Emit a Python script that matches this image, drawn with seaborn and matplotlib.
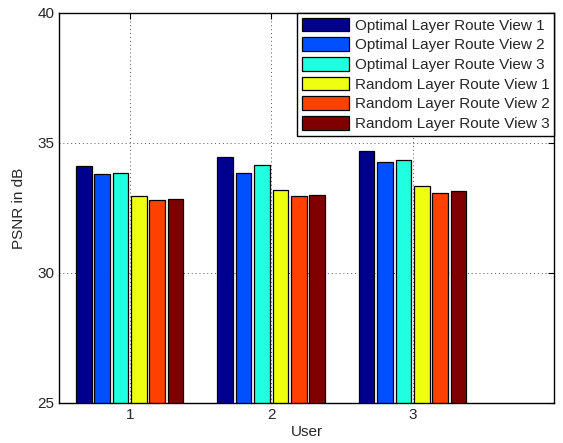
import numpy as np
import pandas as pd
import seaborn as sns
import matplotlib
matplotlib.use("Agg")
import matplotlib.pyplot as plt

users = ["1", "2", "3"]
series = ["Optimal Layer Route View 1", "Optimal Layer Route View 2",
          "Optimal Layer Route View 3", "Random Layer Route View 1",
          "Random Layer Route View 2", "Random Layer Route View 3"]
opt_v1 = [34.12, 34.46, 34.69]
opt_v2 = [33.82, 33.85, 34.28]
opt_v3 = [33.86, 34.15, 34.33]
rnd_v1 = [32.97, 33.19, 33.33]
rnd_v2 = [32.80, 32.95, 33.08]
rnd_v3 = [32.84, 33.01, 33.14]
colors = ["#00008F", "#0050FF", "#20FFDF", "#EFFF10", "#FF4000", "#800000"]

vals = [opt_v1, opt_v2, opt_v3, rnd_v1, rnd_v2, rnd_v3]
df = pd.DataFrame([(u, s, v[i]) for s, v in zip(series, vals) for i, u in enumerate(users)],
                  columns=["User", "Series", "PSNR"])

sns.set_style("white")
plt.rcParams['font.family'] = ['Liberation Sans', 'DejaVu Sans']

fig = plt.figure(figsize=(5.63, 4.43), dpi=100)
ax = fig.add_axes([59/563, 1 - 403/443, (554-59)/563, (403-13)/443])

sns.barplot(data=df, x="User", y="PSNR", hue="Series", hue_order=series,
            palette=colors, saturation=1, width=0.78, gap=0.15, edgecolor="black",
            linewidth=0.9, ax=ax, legend=True)

ax.set_xlim(-0.5, 3.0)
ax.set_ylim(25, 40)
ax.set_yticks([25, 30, 35, 40])
ax.grid(True, linestyle=(0, (1, 3)), color="#555555", linewidth=0.7)
ax.set_axisbelow(True)
for sp in ax.spines.values():
    sp.set_visible(True)
    sp.set_color("black")
    sp.set_linewidth(1.0)
ax.tick_params(direction="in", length=4, labelsize=11, top=True, right=True, color="black")
ax.set_xlabel("User", fontsize=11, labelpad=2)
ax.set_ylabel("PSNR in dB", fontsize=11, labelpad=8)

handles, labels = ax.get_legend_handles_labels()
leg = ax.legend(handles, labels, loc="upper right", bbox_to_anchor=(1.0, 1.0),
                borderaxespad=0, fontsize=11, frameon=True, fancybox=False,
                edgecolor="black", framealpha=1, handlelength=3.1, handleheight=1.0,
                labelspacing=0.3, handletextpad=0.35, borderpad=0.3)
leg.get_frame().set_linewidth(1.0)

fig.savefig("out.png", dpi=100)
